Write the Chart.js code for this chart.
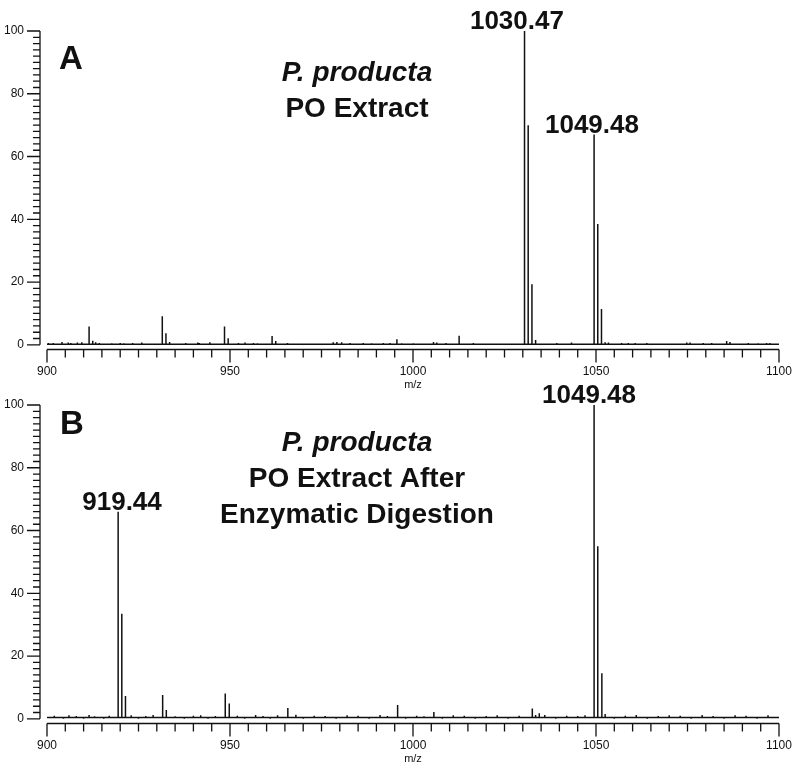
<!DOCTYPE html>
<html>
<head>
<meta charset="utf-8">
<script src="https://cdn.jsdelivr.net/npm/chart.js@4/dist/chart.umd.min.js"></script>
<style>
  body { margin: 0; background: #fff; }
  #wrap { position: relative; width: 799px; height: 771px; }
  canvas { position: absolute; left: 0; }
</style>
</head>
<body>
<div id="wrap">
  <canvas id="panelA" width="799" height="397" style="top:0"></canvas>
  <canvas id="panelB" width="799" height="397" style="top:374px"></canvas>
</div>
<script>
const xTicks = [900, 950, 1000, 1050, 1100];
const yTicks = [0, 20, 40, 60, 80, 100];

// A: P. producta PO extract
const aPeakMz  = [911.5, 912.5, 931.5, 932.5, 933.5, 948.5, 949.5, 961.5, 962.5, 995.6, 1012.6, 1030.47, 1031.47, 1032.5, 1033.5, 1049.48, 1050.48, 1051.5, 1052.5];
const aPeakInt = [5.8, 1.3, 9.1, 3.7, 0.9, 5.8, 2.1, 2.8, 1.2, 1.8, 2.9, 100, 70, 19.3, 1.5, 67, 38.5, 11.4, 0.8];
const aNoiseMz  = [900.4, 901.7, 904.1, 905.8, 906.5, 908.3, 909.5, 913.3, 914.3, 917.7, 920, 921, 923.4, 925.9, 937.9, 941.2, 941.6, 944.5, 952.3, 954.1, 956.4, 957.5, 965.7, 978.2, 979.2, 980.5, 982.8, 986.4, 988.7, 991.9, 993.7, 996.9, 1000.1, 1005.6, 1006.5, 1009, 1016.5, 1039.3, 1043.3, 1053.4, 1057, 1058.8, 1060.7, 1063.9, 1074.8, 1075.7, 1079.3, 1081.6, 1085.7, 1086.6, 1091.6, 1094.3, 1096.6, 1097.5];
const aNoiseInt = [0.6, 0.6, 0.9, 0.7, 0.6, 0.7, 0.8, 0.8, 0.6, 0.5, 0.6, 0.5, 0.6, 0.7, 0.6, 0.7, 0.6, 0.8, 0.6, 0.7, 0.6, 0.5, 0.6, 0.8, 0.9, 0.8, 0.6, 0.6, 0.5, 0.6, 0.6, 0.5, 0.5, 0.9, 0.7, 0.6, 0.6, 0.6, 0.7, 0.7, 0.6, 0.6, 0.6, 0.6, 0.7, 0.7, 0.6, 0.6, 1.2, 0.9, 0.6, 0.5, 0.6, 0.6];
const aLabels   = ['1030.47', '1049.48'];
const aLabelMz  = [1030.47, 1049.48];
const aLabelAt  = [1028.4, 1048.9];
const aTitle    = ['P. producta', 'PO Extract'];

// B: after enzymatic digestion
const bPeakMz  = [919.44, 920.44, 921.44, 931.6, 932.6, 948.7, 949.8, 965.8, 995.8, 1005.7, 1032.6, 1033.5, 1049.48, 1050.48, 1051.6, 1052.5];
const bPeakInt = [66, 33.5, 7.3, 7.6, 2.8, 8.1, 4.9, 3.4, 4.4, 2.2, 3.3, 1.2, 100, 55, 14.5, 1.5];
const bNoiseMz  = [902, 904.5, 906, 908, 910, 911.5, 913, 915.5, 917, 923, 925, 927, 929, 935, 937.5, 940, 942, 944, 946, 952, 954, 957, 959, 961, 963, 968, 970, 973, 976, 979, 982, 985, 988, 991, 993, 998, 1001, 1003, 1008, 1011, 1014, 1017, 1020, 1023, 1026, 1029, 1034.5, 1036, 1039, 1042, 1045, 1047, 1055, 1058, 1061, 1064, 1067, 1070, 1073, 1076, 1079, 1082, 1085, 1088, 1091, 1094, 1097];
const bNoiseInt = [1.0, 0.0, 1.1, 0.9, 0.0, 1.2, 0.8, 0.0, 1.0, 1.1, 0.0, 0.9, 1.2, 0.8, 0.0, 1.0, 1.1, 0.0, 0.9, 1.0, 0.0, 1.2, 0.9, 0.0, 1.1, 1.3, 0.0, 1.0, 0.9, 0.0, 1.1, 1.0, 0.0, 1.2, 0.9, 0.0, 1.0, 0.8, 0.0, 1.1, 1.0, 0.0, 0.9, 1.1, 0.0, 1.0, 1.8, 1.2, 0.0, 1.0, 0.9, 1.1, 0.0, 1.0, 1.2, 0.0, 0.9, 1.1, 1.0, 0.0, 1.2, 0.9, 0.0, 1.1, 1.0, 0.0, 1.1];
const bLabels   = ['919.44', '1049.48'];
const bLabelMz  = [919.44, 1049.48];
const bLabelAt  = [920.5, 1048.1];
const bTitle    = ['P. producta', 'PO Extract After', 'Enzymatic Digestion'];

const FONT = '"Liberation Sans", Arial, sans-serif';
const INK = '#111';

function stickSeries(mz, inten, noiseMz, noiseInt, base) {
  const all = mz.map((m, i) => [m, inten[i]])
    .concat(noiseMz.map((m, i) => [m, noiseInt[i]]))
    .sort((a, b) => a[0] - b[0]);
  const pts = [{x: 900, y: base}];
  all.forEach(([m, h]) => {
    pts.push({x: m, y: base}, {x: m, y: h}, {x: m, y: base});
  });
  pts.push({x: 1100, y: base});
  return pts;
}

// axis lines with major + minor ticks, old MS-software style
const msAxes = {
  id: 'msAxes',
  afterDraw(chart) {
    const {ctx, chartArea, scales: {x, y}} = chart;
    const ax = chartArea.left - 7;
    const ay = chartArea.bottom;
    ctx.save();
    ctx.strokeStyle = INK;
    ctx.lineWidth = 1.3;
    ctx.beginPath();
    ctx.moveTo(ax, y.getPixelForValue(100));
    ctx.lineTo(ax, y.getPixelForValue(0));
    for (let v = 0; v <= 100; v += 2) {
      const py = y.getPixelForValue(v);
      const len = v % 20 === 0 ? 13 : 7;
      ctx.moveTo(ax - len, py);
      ctx.lineTo(ax, py);
    }
    ctx.moveTo(x.getPixelForValue(900), ay);
    ctx.lineTo(x.getPixelForValue(1100), ay);
    for (let v = 900; v <= 1100; v += 5) {
      const px = x.getPixelForValue(v);
      const len = v % 50 === 0 ? 13 : 8;
      ctx.moveTo(px, ay);
      ctx.lineTo(px, ay + len);
    }
    ctx.stroke();
    ctx.restore();
  }
};

const msText = {
  id: 'msText',
  afterDatasetsDraw(chart, args, o) {
    const {ctx, scales: {x, y}} = chart;
    ctx.save();
    ctx.fillStyle = INK;
    ctx.textBaseline = 'alphabetic';
    ctx.textAlign = 'left';
    ctx.font = 'bold 33px ' + FONT;
    ctx.fillText(o.letter, o.letterX, o.letterY);
    ctx.textAlign = 'center';
    o.title.forEach((t, i) => {
      ctx.font = (i === 0 ? 'italic bold ' : 'bold ') + '28px ' + FONT;
      ctx.fillText(t, o.titleX, o.titleY + i * 36);
    });
    ctx.font = 'bold 26px ' + FONT;
    o.labels.forEach((t, i) => {
      const h = o.peakInt[o.peakMz.indexOf(o.labelMz[i])];
      ctx.fillText(t, x.getPixelForValue(o.labelAt[i]), y.getPixelForValue(h) - 2);
    });
    ctx.restore();
  }
};

function makePanel(id, data, text) {
  return new Chart(document.getElementById(id), {
    type: 'scatter',
    data: {
      datasets: [{
        data: data,
        showLine: true,
        borderColor: INK,
        borderWidth: 1.5,
        pointRadius: 0,
        tension: 0
      }]
    },
    plugins: [msAxes, msText],
    options: {
      responsive: false,
      animation: false,
      layout: { padding: { top: 31, right: 20, bottom: 5.5, left: 0 } },
      plugins: {
        legend: { display: false },
        tooltip: { enabled: false },
        msText: text
      },
      scales: {
        x: {
          type: 'linear',
          min: 900,
          max: 1100,
          grid: { display: false },
          border: { display: false },
          afterBuildTicks: s => { s.ticks = xTicks.map(v => ({value: v})); },
          afterFit: s => { s.height = 42; },
          ticks: {
            padding: 7, color: INK, autoSkip: false, maxRotation: 0,
            font: { family: FONT, size: 12 },
            callback: v => String(v)
          },
          title: { display: true, text: 'm/z', color: INK, padding: 0, font: { family: FONT, size: 11 } }
        },
        y: {
          min: -1.5,
          max: 100,
          grid: { display: false },
          border: { display: false },
          afterBuildTicks: s => { s.ticks = yTicks.map(v => ({value: v})); },
          afterFit: s => { s.width = 47; },
          ticks: { padding: 15, color: INK, font: { family: FONT, size: 12 }, callback: v => String(v) }
        }
      }
    }
  });
}

makePanel('panelA', stickSeries(aPeakMz, aPeakInt, aNoiseMz, aNoiseInt, 0.2), {
  letter: 'A', letterX: 59, letterY: 69,
  title: aTitle, titleX: 357, titleY: 81,
  labels: aLabels, labelMz: aLabelMz, labelAt: aLabelAt, peakMz: aPeakMz, peakInt: aPeakInt
});

makePanel('panelB', stickSeries(bPeakMz, bPeakInt, bNoiseMz, bNoiseInt, 0.4), {
  letter: 'B', letterX: 60, letterY: 60,
  title: bTitle, titleX: 357, titleY: 77,
  labels: bLabels, labelMz: bLabelMz, labelAt: bLabelAt, peakMz: bPeakMz, peakInt: bPeakInt
});
</script>
</body>
</html>
